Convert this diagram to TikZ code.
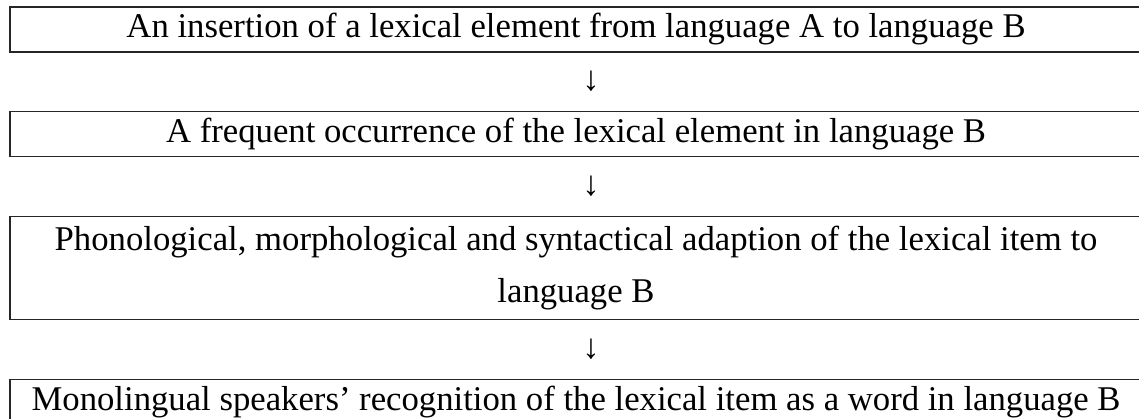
\documentclass[tikz,border=0pt]{standalone}
\usepackage{fontspec}
\setmainfont{Liberation Serif}
\usetikzlibrary{positioning,calc}

\tikzset{
  stage/.style={draw=black!85, line width=1.2pt, minimum width=1132pt, align=center,
    inner sep=0pt, font=\fontsize{34.7}{52}\selectfont},
  downarrow/.style={inner sep=0pt, font=\fontsize{34.7}{40}\selectfont, xshift=15pt},
}

\begin{document}
\begin{tikzpicture}[x=1pt,y=1pt, node distance=58pt]
\useasboundingbox (0,0) rectangle (1139,-419);
\clip (0,0) rectangle (1139,-419);
%\draw[step=50,gray,very thin] (0,-419) grid (1139,0); %background grid

\node[stage, minimum height=45pt] (s1) at (576,-29.5) {An insertion of a lexical element from language A to language B};
\node[stage, minimum height=45pt, below=58pt of s1] (s2) {A frequent occurrence of the lexical element in language B};
\node[stage, minimum height=103pt, below=59pt of s2] (s3) {Phonological, morphological and syntactical adaption of the lexical item to\\ language B};
\node[stage, minimum height=45pt, below=59pt of s3] (s4) {Monolingual speakers’ recognition of the lexical item as a word in language B};

\node[downarrow] (a1) at ($(s1.south)!0.5!(s2.north)$) {↓};
\node[downarrow] (a2) at ($(s2.south)!0.5!(s3.north)$) {↓};
\node[downarrow] (a3) at ($(s3.south)!0.5!(s4.north)$) {↓};
\end{tikzpicture}
\end{document}
